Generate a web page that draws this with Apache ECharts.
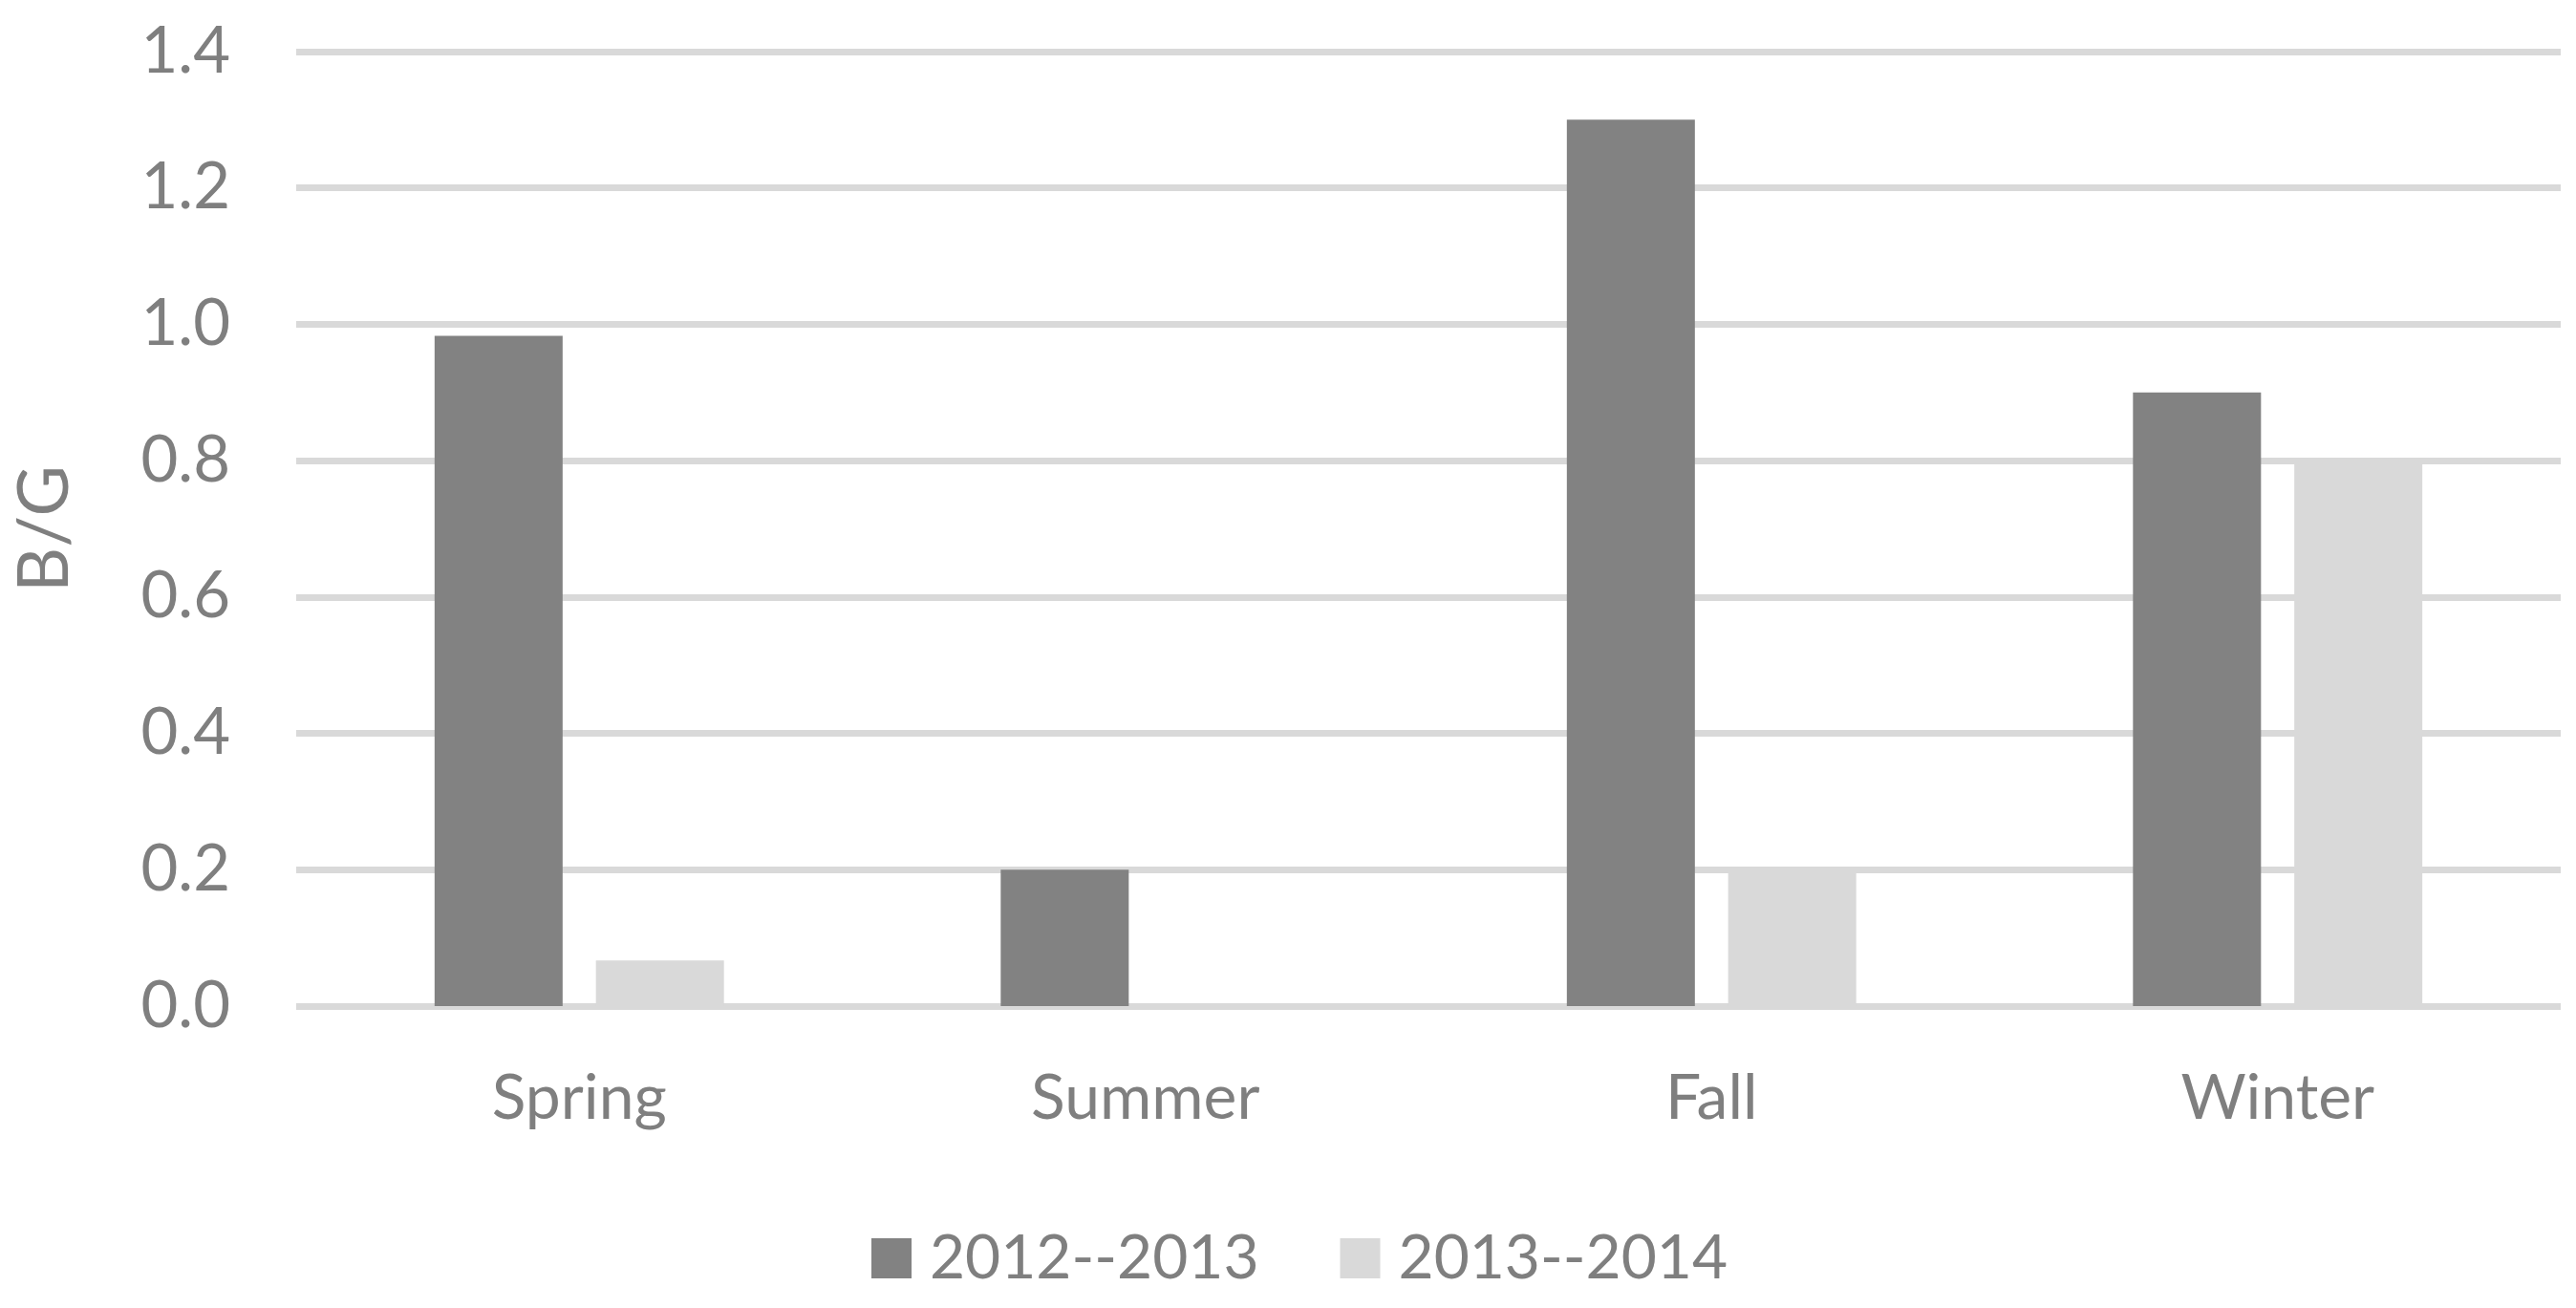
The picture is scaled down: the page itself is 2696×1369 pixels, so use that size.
<!DOCTYPE html>
<html>
<head>
<meta charset="utf-8">
<title>B/G by season</title>
<script src="https://cdn.jsdelivr.net/npm/echarts@6/dist/echarts.min.js"></script>
<style>
  html, body { margin: 0; padding: 0; background: #fff; }
  #main { width: 2696px; height: 1369px; }
</style>
</head>
<body>
<div id="main"></div>
<script>
var seasons = ['Spring', 'Summer', 'Fall', 'Winter'];
var seriesNames = ['2012--2013', '2013--2014'];
var values1213 = [0.983, 0.2, 1.3, 0.9];
var values1314 = [0.067, 0, 0.195, 0.795];

var textGrey = '#7f7f7f';
var fontName = 'Lato';

var chart = echarts.init(document.getElementById('main'), null, { renderer: 'canvas' });

var option = {
  backgroundColor: '#fff',
  animation: false,
  color: ['#828282', '#d9d9d9'],
  grid: {
    left: 310,
    right: 16,
    top: 54,
    bottom: 316,
    outerBoundsMode: 'none'
  },
  legend: {
    data: seriesNames,
    left: 907,
    top: 1280,
    icon: 'rect',
    itemWidth: 42,
    itemHeight: 42,
    itemGap: 85,
    textStyle: {
      color: textGrey,
      fontFamily: fontName,
      fontSize: 64,
      padding: [0, 0, 0, 14]
    }
  },
  xAxis: {
    type: 'category',
    data: seasons,
    axisLine: { show: false },
    axisTick: { show: false },
    axisLabel: {
      color: textGrey,
      fontFamily: fontName,
      fontSize: 66,
      margin: 64
    }
  },
  yAxis: {
    type: 'value',
    min: 0,
    max: 1.4,
    interval: 0.2,
    name: 'B/G',
    nameLocation: 'middle',
    nameGap: 226,
    nameTextStyle: {
      color: textGrey,
      fontFamily: fontName,
      fontSize: 73
    },
    axisLine: { show: false },
    axisTick: { show: false },
    axisLabel: {
      color: textGrey,
      fontFamily: fontName,
      fontSize: 67,
      margin: 69,
      formatter: function (v) { return v.toFixed(1); }
    },
    splitLine: {
      lineStyle: { color: '#d9d9d9', width: 7 }
    }
  },
  series: [
    {
      name: seriesNames[0],
      type: 'bar',
      data: values1213,
      barWidth: 134,
      barGap: '26%'
    },
    {
      name: seriesNames[1],
      type: 'bar',
      data: values1314,
      barWidth: 134,
      barGap: '26%'
    }
  ]
};

chart.setOption(option);
</script>
</body>
</html>
